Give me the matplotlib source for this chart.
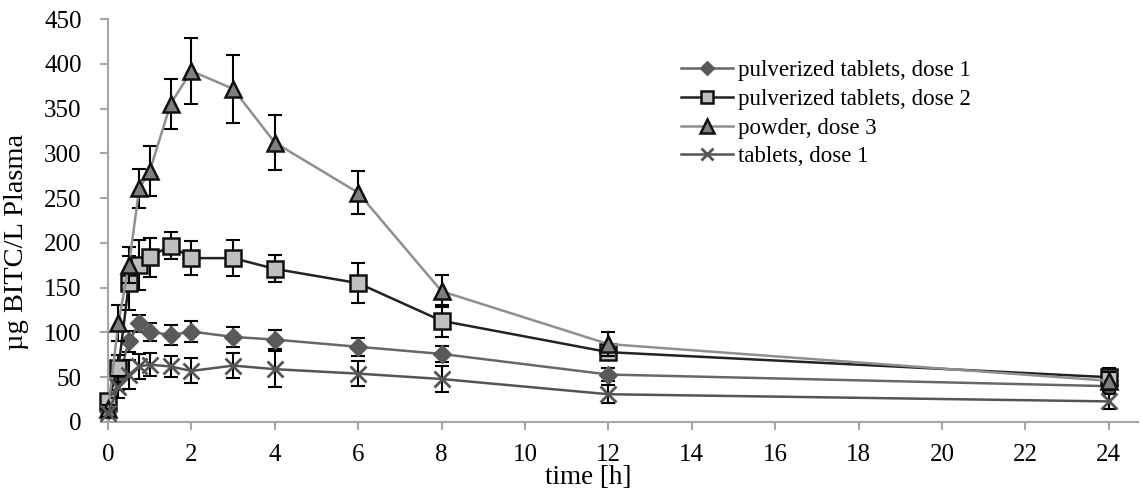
import numpy as np
import matplotlib.pyplot as plt

plt.rcParams['font.family'] = ['Liberation Serif', 'DejaVu Serif']

# time points [h]
t = [0, 0.25, 0.5, 0.75, 1, 1.5, 2, 3, 4, 6, 8, 12, 24]

# µg BITC/L plasma, mean and error
pulv_d1 = [12, 48, 90, 110, 101, 97, 101, 95, 92, 84, 76, 53, 40]
pulv_d1_err = [5, 12, 12, 10, 10, 11, 12, 11, 11, 10, 9, 7, 6]
pulv_d2 = [24, 60, 155, 175, 184, 197, 183, 183, 171, 155, 113, 78, 50]
pulv_d2_err = [6, 15, 30, 28, 22, 15, 19, 20, 15, 22, 18, 7, 10]
powder_d3 = [14, 111, 175, 261, 280, 355, 392, 372, 312, 256, 146, 87, 46]
powder_d3_err = [5, 20, 20, 22, 28, 28, 37, 38, 31, 24, 18, 13, 10]
tabl_d1 = [10, 39, 53, 62, 64, 62, 57, 63, 59, 54, 48, 31, 23]
tabl_d1_err = [4, 12, 16, 14, 13, 12, 14, 14, 20, 14, 14, 10, 8]

labels = ['pulverized tablets, dose 1', 'pulverized tablets, dose 2',
          'powder, dose 3', 'tablets, dose 1']

fig = plt.figure(figsize=(11.42, 4.95), dpi=100)
ax = fig.add_axes([108/1142, 1-422/495, (1138-108)/1142, (422-19)/495])

series = [
    (pulv_d1, pulv_d1_err, dict(color='#676767', marker='D', ms=9, mfc='#5a5a5a', mec='#5a5a5a')),
    (pulv_d2, pulv_d2_err, dict(color='#222222', marker='s', ms=11, mfc='#bfbfbf', mec='#111111', mew=1.8)),
    (powder_d3, powder_d3_err, dict(color='#8f8f8f', marker='^', ms=12, mfc='#7f7f7f', mec='#111111', mew=1.8)),
    (tabl_d1, tabl_d1_err, dict(color='#555555', marker='x', ms=11, mec='#555555', mew=2)),
]

# error bars under each series' line + markers
z = 2
for (y, e, st), lab in zip(series, labels):
    ax.errorbar(t, y, yerr=e, fmt='none', ecolor='black', elinewidth=1.5,
                capsize=5, capthick=1.5, zorder=z, clip_on=False)
    ax.plot(t, y, lw=1.8, label=lab, zorder=z + 0.5, clip_on=False, **st)
    z += 1

ax.set_xlim(0, 24.7)
ax.set_ylim(0, 450)
ax.set_xticks(range(0, 25, 2))
ax.set_yticks(range(0, 451, 50))
for s in ['top', 'right']:
    ax.spines[s].set_visible(False)
for s in ['left', 'bottom']:
    ax.spines[s].set_color('#a6a6a6')
    ax.spines[s].set_linewidth(1.5)
ax.tick_params(axis='both', colors='#a6a6a6', width=1.5, length=6,
               labelsize=18, labelcolor='black')
ax.tick_params(axis='x', pad=10)
ax.tick_params(axis='y', pad=13)

ax.set_xlabel('time [h]', fontsize=19.5, va='center')
ax.xaxis.set_label_coords((588-108)/1030, -(478-422)/403)
ax.set_ylabel('µg BITC/L Plasma', fontsize=20.5, va='center')
ax.yaxis.set_label_coords(-(108-17)/1030, (422-242)/403)

ax.legend(loc='upper left', bbox_to_anchor=(0.547, 0.92), frameon=False,
          fontsize=16.5, handlelength=2.3, handletextpad=0.2, labelspacing=0.33,
          borderaxespad=0, markerscale=0.8)

plt.savefig('out.png', dpi=100)
